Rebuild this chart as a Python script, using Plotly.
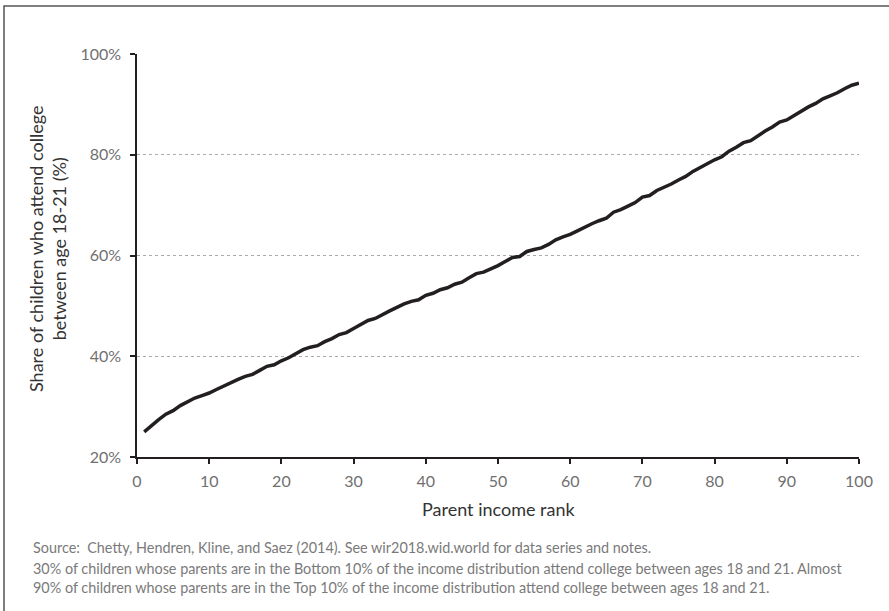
import plotly.graph_objects as go

parent_rank = list(range(1, 101))
college_share = [
    25.0, 26.3, 27.4, 28.5, 29.2, 30.2, 31.0, 31.7, 32.2, 32.7,
    33.4, 34.1, 34.8, 35.4, 36.0, 36.4, 37.2, 38.0, 38.3, 39.1,
    39.7, 40.6, 41.3, 41.8, 42.1, 42.9, 43.5, 44.3, 44.7, 45.5,
    46.3, 47.1, 47.5, 48.3, 49.0, 49.7, 50.4, 50.9, 51.2, 52.1,
    52.5, 53.2, 53.6, 54.3, 54.7, 55.6, 56.4, 56.7, 57.3, 58.0,
    58.8, 59.6, 59.8, 60.8, 61.2, 61.5, 62.2, 63.1, 63.7, 64.2,
    64.9, 65.7, 66.3, 66.9, 67.4, 68.6, 69.1, 69.8, 70.5, 71.6,
    71.9, 72.9, 73.5, 74.2, 75.0, 75.7, 76.7, 77.5, 78.3, 79.0,
    79.6, 80.7, 81.5, 82.4, 82.8, 83.8, 84.7, 85.5, 86.5, 86.9,
    87.8, 88.7, 89.5, 90.2, 91.1, 91.7, 92.3, 93.1, 93.8, 94.2,
]
x_ticks = [0, 10, 20, 30, 40, 50, 60, 70, 80, 90, 100]
y_ticks = [20, 40, 60, 80, 100]
y_tick_labels = ["20%", "40%", "60%", "80%", "100%"]

x_title = "Parent income rank"
y_title = "Share of children who attend college<br>between age 18-21 (%)"
source_note = "Source:  Chetty, Hendren, Kline, and Saez (2014). See wir2018.wid.world for data series and notes."
body_note = ("30% of children whose parents are in the Bottom 10% of the income distribution attend college between ages 18 and 21. Almost<br>"
             "90% of children whose parents are in the Top 10% of the income distribution attend college between ages 18 and 21.")

FONT = "Lato, 'Open Sans', sans-serif"

W, H = 889, 611
PL, PR, PT, PB = 137, 859, 54, 457  # plot area in window pixels
PW, PH = PR - PL, PB - PT


def px_x(px):
    return (px - PL) / PW


def px_y(py):
    return (PB - py) / PH


fig = go.Figure()
fig.add_trace(go.Scatter(
    x=parent_rank, y=college_share, mode="lines",
    line=dict(color="#231f20", width=3.5),
    hoverinfo="skip", showlegend=False,
))

fig.update_layout(
    width=W, height=H,
    margin=dict(l=PL, r=W - PR, t=PT, b=H - PB, pad=0),
    paper_bgcolor="white", plot_bgcolor="white",
    font=dict(family=FONT, color="#777777", size=14),
    xaxis=dict(
        range=[0, 100], tickvals=x_ticks, showgrid=False, zeroline=False,
        showline=True, linecolor="#231f20", linewidth=1.5,
        ticks="outside", ticklen=5, tickcolor="#231f20", tickwidth=1.5,
        ticklabelstandoff=4,
        tickfont=dict(family=FONT, size=16, color="#707070"),
    ),
    yaxis=dict(
        range=[20, 100], tickvals=y_ticks, ticktext=y_tick_labels, zeroline=False,
        showline=True, linecolor="#231f20", linewidth=1.5,
        ticks="outside", ticklen=5, tickcolor="#231f20", tickwidth=1.5,
        ticklabelstandoff=6,
        showgrid=True, gridcolor="#aaaaaa", griddash="dot", gridwidth=1,
        tickfont=dict(family=FONT, size=16, color="#707070"),
    ),
    shapes=[dict(
        type="rect", xref="paper", yref="paper",
        x0=px_x(4), x1=px_x(905),
        y0=px_y(640), y1=px_y(6),
        line=dict(color="#555555", width=1.5), fillcolor="rgba(0,0,0,0)",
        layer="above",
    )],
    annotations=[
        dict(text=y_title, xref="paper", yref="paper",
             x=px_x(47), y=px_y(249), textangle=-90, showarrow=False,
             xanchor="center", yanchor="middle",
             font=dict(family=FONT, size=18, color="#333333")),
        dict(text=x_title, xref="paper", yref="paper",
             x=px_x(498), y=px_y(509), showarrow=False,
             xanchor="center", yanchor="middle",
             font=dict(family=FONT, size=18, color="#333333")),
        dict(text=source_note, xref="paper", yref="paper",
             x=px_x(31), y=px_y(547), showarrow=False,
             xanchor="left", yanchor="middle", align="left",
             font=dict(family=FONT, size=14.4, color="#7a7a7a")),
        dict(text=body_note, xref="paper", yref="paper",
             x=px_x(31), y=px_y(578), showarrow=False,
             xanchor="left", yanchor="middle", align="left",
             font=dict(family=FONT, size=14.4, color="#7a7a7a")),
    ],
)

fig.write_html("out.html", config={"displayModeBar": False},
               post_script="document.body.style.margin='0';")
